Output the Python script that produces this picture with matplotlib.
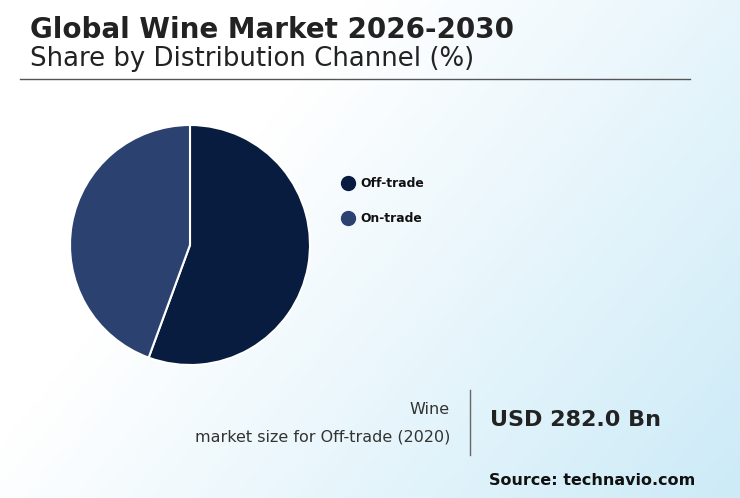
import matplotlib
matplotlib.use("Agg")
import matplotlib.pyplot as plt
import numpy as np

labels = ["Off-trade", "On-trade"]
shares = [55.6, 44.4]
colors = ["#081c40", "#2b4170"]

fig = plt.figure(figsize=(7.4, 4.98), dpi=100)
bg = fig.add_axes([0, 0, 1, 1], zorder=-10)
x = np.linspace(0, 1, 200)
y = np.linspace(0, 1, 200)
X, Y = np.meshgrid(x, y)
t = np.clip((X * 0.9 + Y * 0.5 - 0.45) / 0.95, 0, 1)
c0 = np.array([1, 1, 1]); c1 = np.array([0.80, 0.92, 0.97])
img = c0[None, None, :] * (1 - t[..., None]) + c1[None, None, :] * t[..., None]
bg.imshow(img, extent=[0, 1, 0, 1], aspect="auto", origin="upper")
bg.axis("off")

fig.text(30/740, 1-30/498, "Global Wine Market 2026-2030", fontsize=20, fontweight="bold", color="#222222", va="center")
fig.text(30/740, 1-59/498, "Share by Distribution Channel (%)", fontsize=18.7, color="#222222", va="center")
fig.add_artist(plt.Line2D([20/740, 690/740], [1-79/498, 1-79/498], color="#555555", lw=1))

ax = fig.add_axes([(190-120)/740, 1-(245+120)/498, 240/740, 240/498])
ax.pie(shares, colors=colors, startangle=90, counterclock=False, radius=1,
       wedgeprops=dict(edgecolor="white", linewidth=1.5))
ax.set_xlim(-1, 1); ax.set_ylim(-1, 1)
ax.set_aspect("equal")

for i, (lab, col) in enumerate(zip(labels, colors)):
    yy = 1 - (183 + 35 * i) / 498
    fig.add_artist(plt.Line2D([348/740], [yy], marker="o", markersize=10, color=col, lw=0))
    fig.text(360/740, yy, lab, fontsize=8.9, fontweight="bold", va="center", color="#111111")

fig.text(450/740, 1-409/498, "Wine", fontsize=11.5, ha="right", va="center", color="#333333")
fig.text(450/740, 1-437/498, "market size for Off-trade (2020)", fontsize=11.5, ha="right", va="center", color="#333333")
fig.add_artist(plt.Line2D([470/740, 470/740], [1-390/498, 1-455/498], color="#666666", lw=1))
fig.text(490/740, 1-420/498, "USD 282.0 Bn", fontsize=16, fontweight="bold", va="center", color="#222222")
fig.text(695/740, 1-480/498, "Source: technavio.com", fontsize=11.5, fontweight="bold", ha="right", va="center", color="#111111")

fig.savefig("out.png", dpi=100)
